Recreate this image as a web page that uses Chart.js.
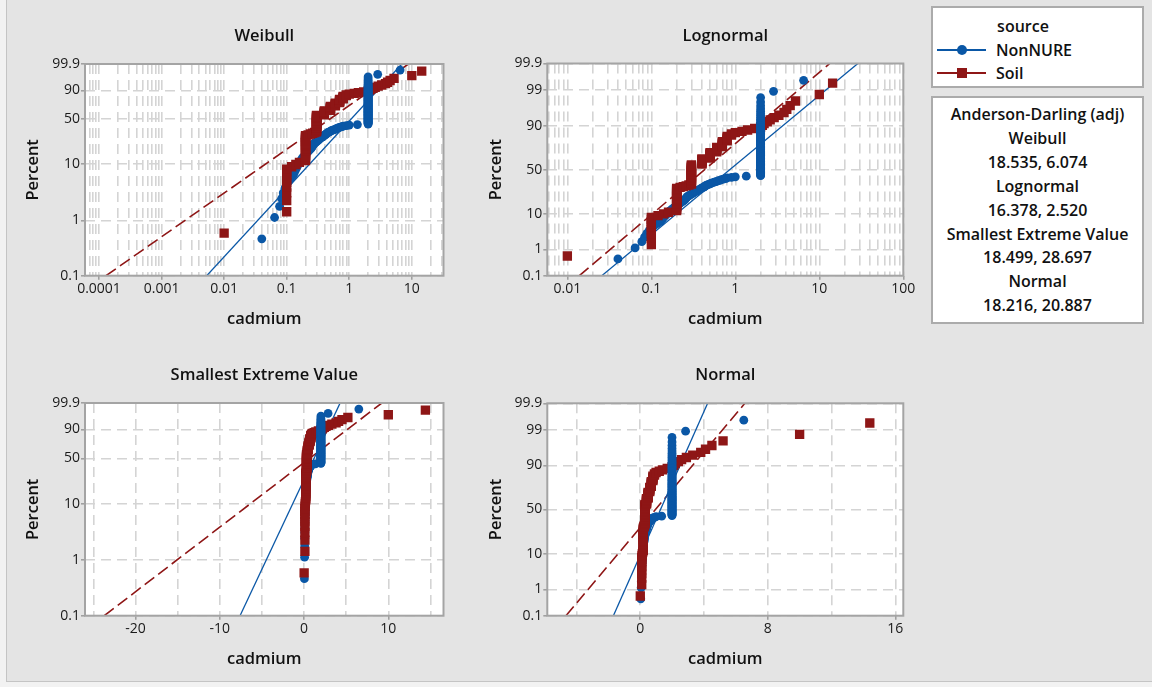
<!DOCTYPE html>
<html>
<head>
<meta charset="utf-8">
<title>Probability ID Plot for cadmium</title>
<script src="https://cdn.jsdelivr.net/npm/chart.js@4.4.1/dist/chart.umd.min.js"></script>
<style>
  html, body { margin: 0; padding: 0; }
  body { width: 1152px; height: 687px; background: #f2f2f2; position: relative; overflow: hidden;
         font-family: 'Open Sans', 'Noto Sans', sans-serif; }
  #frame { position: absolute; left: 6px; top: -4px; width: 1200px; height: 686px; background: #e4e4e4;
           border: 1px solid #c4c4c4; box-sizing: border-box; }
  canvas { position: absolute; }
  .box { position: absolute; left: 931px; width: 213px; background: #fff; border: 2px solid #ababab;
         box-sizing: border-box; color: #111; font-size: 16px; font-weight: 600; }
  #legendBox { top: 6px; height: 82px; }
  #statsBox { top: 96px; height: 228px; text-align: center; padding-top: 5px; line-height: 23.9px; }
  .lg-head { position: absolute; left: 40px; width: 100px; top: 6px; text-align: center; line-height: 24px; }
  .lg-row { position: absolute; left: 0; height: 24px; width: 100%; }
  .lg-line { position: absolute; left: 4px; width: 49px; top: 11px; height: 2px; }
  .lg-mark { position: absolute; }
  .lg-text { position: absolute; left: 63px; top: 0; line-height: 24px; }
</style>
</head>
<body>
<div id="frame"></div>
<canvas id="plotWeibull" width="460" height="340" style="left:0;top:0"></canvas>
<canvas id="plotLognormal" width="460" height="340" style="left:460px;top:0"></canvas>
<canvas id="plotSev" width="460" height="340" style="left:0;top:340px"></canvas>
<canvas id="plotNormal" width="460" height="340" style="left:460px;top:340px"></canvas>
<div class="box" id="legendBox"></div>
<div class="box" id="statsBox"></div>
<script>
// Cadmium results, sorted, as [value, number of samples] runs
const nonNureRuns = [
  [0.04, 1], [0.064, 1], [0.077, 1], [0.083, 1], [0.088, 1], [0.094, 1], [0.1, 1], [0.108, 1],
  [0.117, 1], [0.127, 1], [0.132, 1], [0.137, 1], [0.142, 1], [0.147, 1], [0.152, 1], [0.158, 1],
  [0.164, 1], [0.17, 1], [0.176, 1], [0.183, 1], [0.19, 1], [0.197, 1], [0.204, 1], [0.212, 1],
  [0.22, 1], [0.228, 1], [0.236, 1], [0.245, 1], [0.25, 1], [0.255, 1], [0.26, 1], [0.265, 1],
  [0.27, 1], [0.28, 1], [0.29, 1], [0.3, 1], [0.31, 1], [0.32, 1], [0.33, 1], [0.34, 1],
  [0.35, 1], [0.37, 1], [0.38, 1], [0.39, 1], [0.4, 1], [0.42, 1], [0.43, 1], [0.44, 1],
  [0.45, 1], [0.47, 1], [0.49, 1], [0.51, 1], [0.53, 1], [0.56, 1], [0.59, 1], [0.62, 1],
  [0.65, 1], [0.68, 1], [0.72, 1], [0.76, 1], [0.8, 1], [0.9, 1], [1.0, 1], [1.35, 1],
  [2, 84], [2.85, 1], [6.5, 1]
];
const soilRuns = [
  [0.01, 1], [0.1, 9], [0.12, 1], [0.14, 1], [0.16, 1], [0.2, 22], [0.22, 1], [0.24, 1],
  [0.26, 1], [0.28, 1], [0.3, 27], [0.4, 8], [0.5, 8], [0.6, 6], [0.7, 6], [0.8, 5], [0.9, 2],
  [1.0, 1], [1.2, 1], [1.4, 1], [1.7, 1], [2.0, 1], [2.1, 1], [2.2, 1], [2.4, 1], [2.6, 1],
  [2.9, 1], [3.3, 1], [3.8, 1], [4.1, 1], [4.5, 1], [5.2, 1], [10, 1], [14.4, 1]
];

const seriesNames = ['NonNURE', 'Soil'];
const groupTitle = 'source';
const distributions = ['Weibull', 'Lognormal', 'Smallest Extreme Value', 'Normal'];
// Fitted parameters per distribution:
// Weibull [shape, scale], Lognormal [location, scale], Smallest extreme value [location, scale], Normal [mean, sd]
const nonNureFit = [[1.231, 1.44], [-0.151, 1.136], [1.683, 1.344], [1.278, 0.956]];
const soilFit = [[0.794, 0.776], [-0.843, 1.111], [2.027, 3.727], [0.958, 1.815]];
const statsTitle = 'Anderson-Darling (adj)';
const adjAD = [[18.535, 6.074], [16.378, 2.520], [18.499, 28.697], [18.216, 20.887]];

// Tick labels
const percentTicksEv = [0.1, 1, 10, 50, 90, 99.9];
const percentTicksNorm = [0.1, 1, 10, 50, 90, 99, 99.9];
const xLabelsWeibull = [0.0001, 0.001, 0.01, 0.1, 1, 10];
const xLabelsLognormal = [0.01, 0.1, 1, 10, 100];
const xLabelsSev = [-20, -10, 0, 10];
const xLabelsNormal = [0, 8, 16];
const xAxisTitle = 'cadmium';
const yAxisTitle = 'Percent';

const BLUE = '#0a57a6';
const RED = '#8e1616';
const FONT = "'Open Sans', 'Noto Sans', sans-serif";

// Inverse standard normal CDF (Acklam)
function normInv(p) {
  const a = [-39.69683028665376, 220.9460984245205, -275.9285104469687, 138.3577518672690, -30.66479806614716, 2.506628277459239];
  const b = [-54.47609879822406, 161.5858368580409, -155.6989798598866, 66.80131188771972, -13.28068155288572];
  const c = [-0.007784894002430293, -0.3223964580411365, -2.400758277161838, -2.549732539343734, 4.374664141464968, 2.938163982698783];
  const d = [0.007784695709041462, 0.3224671290700398, 2.445134137142996, 3.754408661907416];
  const lo = 0.02425;
  if (p < lo) {
    const q = Math.sqrt(-2 * Math.log(p));
    return (((((c[0] * q + c[1]) * q + c[2]) * q + c[3]) * q + c[4]) * q + c[5]) / ((((d[0] * q + d[1]) * q + d[2]) * q + d[3]) * q + 1);
  }
  if (p > 1 - lo) {
    const q = Math.sqrt(-2 * Math.log(1 - p));
    return -(((((c[0] * q + c[1]) * q + c[2]) * q + c[3]) * q + c[4]) * q + c[5]) / ((((d[0] * q + d[1]) * q + d[2]) * q + d[3]) * q + 1);
  }
  const q = p - 0.5, r = q * q;
  return (((((a[0] * r + a[1]) * r + a[2]) * r + a[3]) * r + a[4]) * r + a[5]) * q /
         (((((b[0] * r + b[1]) * r + b[2]) * r + b[3]) * r + b[4]) * r + 1);
}

const transforms = {
  log: v => Math.log10(v),
  linear: v => v,
  extreme: p => Math.log(-Math.log(1 - p / 100)),
  normal: p => normInv(p / 100)
};

// Axis whose pixel position is linear in a transformed value (log, extreme-value or normal probability)
class ProbabilityScale extends Chart.Scale {
  determineDataLimits() {
    this.min = this.options.min;
    this.max = this.options.max;
  }
  buildTicks() {
    return this.options.gridValues.map(v => ({ value: v }));
  }
  configure() {
    super.configure();
    this._fn = transforms[this.options.transform];
    this._tMin = this._fn(this.min);
    this._tMax = this._fn(this.max);
  }
  getPixelForValue(value) {
    return this.getPixelForDecimal((this._fn(value) - this._tMin) / (this._tMax - this._tMin));
  }
  getValueForPixel() { return null; }
  getLabelForValue(value) { return String(value); }
}
ProbabilityScale.id = 'probability';
ProbabilityScale.defaults = {};
Chart.register(ProbabilityScale);

// Plot area: white fill behind, grey frame on top
const plotFrame = {
  id: 'plotFrame',
  beforeDraw(chart) {
    const { ctx, chartArea: a } = chart;
    ctx.save();
    ctx.fillStyle = '#ffffff';
    ctx.fillRect(a.left, a.top, a.right - a.left, a.bottom - a.top);
    ctx.restore();
  },
  afterDraw(chart) {
    const { ctx, chartArea: a } = chart;
    ctx.save();
    ctx.strokeStyle = '#a4a4a4';
    ctx.lineWidth = 2;
    ctx.strokeRect(a.left, a.top, a.right - a.left, a.bottom - a.top);
    ctx.restore();
  }
};

function expandRuns(runs) {
  const out = [];
  runs.forEach(([v, c]) => { for (let k = 0; k < c; k++) out.push(v); });
  return out;
}
// Median-rank plotting positions, in percent
function plottingPositions(runs) {
  const values = expandRuns(runs);
  const n = values.length;
  return values.map((v, i) => ({ x: v, y: 100 * (i + 1 - 0.3) / (n + 0.4) }));
}

function quantile(dist, prm, pct) {
  const p = pct / 100;
  if (dist === 0) return prm[1] * Math.pow(-Math.log(1 - p), 1 / prm[0]);
  if (dist === 1) return Math.exp(prm[0] + prm[1] * normInv(p));
  if (dist === 2) return prm[0] + prm[1] * Math.log(-Math.log(1 - p));
  return prm[0] + prm[1] * normInv(p);
}
function fitLine(dist, prm) {
  return [0.1, 99.9].map(pct => ({ x: quantile(dist, prm, pct), y: pct }));
}

function logGrid(fromExp, toExp, min, max) {
  const out = [];
  for (let e = fromExp; e <= toExp; e++) {
    for (let m = 1; m <= 9; m++) {
      const v = Number((m * Math.pow(10, e)).toPrecision(3));
      if (v >= min && v <= max) out.push(v);
    }
  }
  return out;
}
function linearGrid(from, to, step) {
  const out = [];
  for (let v = from; v <= to; v += step) out.push(v);
  return out;
}

const nonNurePts = plottingPositions(nonNureRuns);
const soilPts = plottingPositions(soilRuns);
const nonNureLow = nonNurePts.filter(p => p.x < 2);
const nonNureHigh = nonNurePts.filter(p => p.x >= 2);

const W = 460, H = 340;
const panels = [
  { canvas: 'plotWeibull', xType: 'log', yType: 'extreme', xMin: 5.97e-5, xMax: 32.1,
    grid: logGrid(-5, 1, 5.97e-5, 32.1), labels: xLabelsWeibull, percent: percentTicksEv,
    area: [85, 64, 443.5, 275.7], titleY: 36, yTitleX: 33.3, xTitleBottom: 10.8 },
  { canvas: 'plotLognormal', xType: 'log', yType: 'normal', xMin: 0.00577, xMax: 100,
    grid: logGrid(-3, 2, 0.00577, 100), labels: xLabelsLognormal, percent: percentTicksNorm,
    area: [87.3, 63.5, 443.3, 275.7], titleY: 36, yTitleX: 36.7, xTitleBottom: 10.8 },
  { canvas: 'plotSev', xType: 'linear', yType: 'extreme', xMin: -26.0, xMax: 16.55,
    grid: linearGrid(-25, 15, 5), labels: xLabelsSev, percent: percentTicksEv,
    area: [85, 63, 443.5, 275.7], titleY: 35.6, yTitleX: 33.3, xTitleBottom: 10.8 },
  { canvas: 'plotNormal', xType: 'linear', yType: 'normal', xMin: -5.82, xMax: 16.5,
    grid: linearGrid(-4, 16, 4), labels: xLabelsNormal, percent: percentTicksNorm,
    area: [87.3, 63.3, 443.3, 275.7], titleY: 35.6, yTitleX: 36.7, xTitleBottom: 10.8 }
];

const gridStyle = { color: '#d4d4d4', lineWidth: 1.6, tickLength: 4, tickWidth: 1.5 };
const tickFont = { family: FONT, size: 14, weight: '500', lineHeight: '16px' };
const titleFont = { family: FONT, size: 16.5, weight: '600', lineHeight: '20px' };

panels.forEach((p, k) => {
  const [l, t, r, b] = p.area;
  new Chart(document.getElementById(p.canvas), {
    type: 'scatter',
    data: {
      datasets: [
        { label: seriesNames[0], data: nonNureHigh, pointStyle: 'circle', pointRadius: 4.4,
          pointBackgroundColor: BLUE, pointBorderWidth: 0, order: 0 },
        { label: seriesNames[1], data: soilPts, pointStyle: 'rect', pointRadius: 6.6,
          pointBackgroundColor: RED, pointBorderWidth: 0, order: 1 },
        { label: seriesNames[0], data: nonNureLow, pointStyle: 'circle', pointRadius: 4.4,
          pointBackgroundColor: BLUE, pointBorderWidth: 0, order: 2 },
        { label: seriesNames[0] + ' fit', data: fitLine(k, nonNureFit[k]), showLine: true, pointRadius: 0,
          borderColor: BLUE, borderWidth: 1.3, fill: false, order: 3 },
        { label: seriesNames[1] + ' fit', data: fitLine(k, soilFit[k]), showLine: true, pointRadius: 0,
          borderColor: RED, borderWidth: 1.6, borderDash: [12, 5], fill: false, order: 4 }
      ]
    },
    options: {
      responsive: false,
      animation: false,
      events: [],
      layout: { padding: { left: 0, top: 0, right: W - r, bottom: 0 } },
      plugins: {
        legend: { display: false },
        tooltip: { enabled: false },
        title: { display: true, fullSize: false, text: distributions[k], color: '#111', font: titleFont,
                 padding: { top: p.titleY - 10, bottom: t - p.titleY - 10 } }
      },
      scales: {
        x: {
          type: 'probability', position: 'bottom', transform: p.xType, min: p.xMin, max: p.xMax,
          gridValues: p.grid,
          afterFit: s => { s.height = H - b; },
          grid: Object.assign({}, gridStyle, {
            tickColor: c => p.labels.includes(c.tick.value) ? '#9c9c9c' : 'rgba(0,0,0,0)'
          }),
          border: { display: false, dash: [10, 6] },
          ticks: { autoSkip: false, maxRotation: 0, padding: 1.6, color: '#1a1a1a', font: tickFont,
                   callback: v => p.labels.includes(v) ? String(v) : '' },
          title: { display: true, text: xAxisTitle, color: '#111', font: titleFont,
                   padding: { top: 0, bottom: p.xTitleBottom } }
        },
        y: {
          type: 'probability', position: 'left', transform: p.yType, min: 0.1, max: 99.9,
          gridValues: p.percent,
          afterFit: s => { s.width = l; },
          grid: Object.assign({}, gridStyle, { tickColor: '#9c9c9c' }),
          border: { display: false, dash: [10, 6] },
          ticks: { autoSkip: false, padding: 1, color: '#1a1a1a', font: tickFont,
                   callback: v => String(v) },
          title: { display: true, text: yAxisTitle, color: '#111', font: titleFont,
                   padding: { top: p.yTitleX - 10, bottom: 0 } }
        }
      }
    },
    plugins: [plotFrame]
  });
});

// Legend: group title and one row per series
const legendBox = document.getElementById('legendBox');
const head = document.createElement('div');
head.className = 'lg-head';
head.textContent = groupTitle;
legendBox.appendChild(head);
seriesNames.forEach((name, i) => {
  const color = i === 0 ? BLUE : RED;
  const row = document.createElement('div');
  row.className = 'lg-row';
  row.style.top = (i === 0 ? 29.6 : 53) + 'px';
  const line = document.createElement('div');
  line.className = 'lg-line';
  line.style.background = color;
  const mark = document.createElement('div');
  mark.className = 'lg-mark';
  if (i === 0) {
    Object.assign(mark.style, { left: '23.5px', top: '7px', width: '10px', height: '10px', borderRadius: '50%', background: color });
  } else {
    Object.assign(mark.style, { left: '23.5px', top: '7px', width: '10px', height: '10px', background: color });
  }
  const text = document.createElement('div');
  text.className = 'lg-text';
  text.textContent = name;
  row.appendChild(line);
  row.appendChild(mark);
  row.appendChild(text);
  legendBox.appendChild(row);
});

// Goodness-of-fit table
const statsBox = document.getElementById('statsBox');
const statLines = [statsTitle];
distributions.forEach((d, k) => {
  statLines.push(d);
  statLines.push(adjAD[k][0].toFixed(3) + ', ' + adjAD[k][1].toFixed(3));
});
statLines.forEach(s => {
  const div = document.createElement('div');
  div.textContent = s;
  statsBox.appendChild(div);
});
</script>
</body>
</html>
